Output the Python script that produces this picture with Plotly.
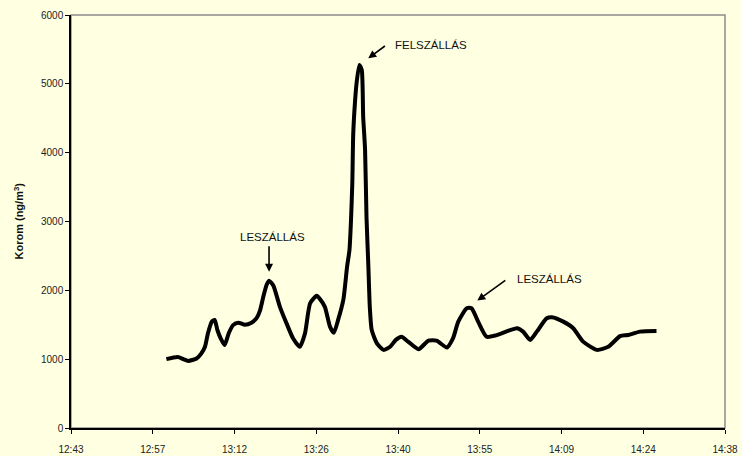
import plotly.graph_objects as go

# Soot concentration measured near the runway (clock time, ng/m3)
times = [
    "13:00:00", "13:02:00", "13:03:00", "13:03:50", "13:05:20", "13:06:10",
    "13:06:48", "13:07:20", "13:08:00", "13:08:30", "13:09:00", "13:09:35",
    "13:10:15", "13:11:00", "13:11:45", "13:12:40", "13:13:50", "13:15:00",
    "13:15:55", "13:16:30", "13:17:05", "13:17:40", "13:18:05", "13:18:50",
    "13:20:00", "13:21:10", "13:22:20", "13:23:30", "13:24:25", "13:25:20",
    "13:26:30", "13:27:05", "13:27:55", "13:28:50", "13:29:30", "13:30:15",
    "13:31:10", "13:31:50", "13:32:15", "13:32:30", "13:32:45", "13:32:55",
    "13:33:15", "13:33:30", "13:34:00", "13:34:25", "13:34:40", "13:35:00",
    "13:35:15", "13:35:35", "13:35:50", "13:36:10", "13:37:05", "13:38:15",
    "13:39:25", "13:40:25", "13:41:25", "13:42:35", "13:44:25", "13:46:10",
    "13:47:35", "13:49:25", "13:50:30", "13:51:25", "13:52:55", "13:53:45",
    "13:54:55", "13:56:25", "13:58:10", "14:01:45", "14:02:50", "14:04:05",
    "14:05:15", "14:07:00", "14:07:55", "14:09:55", "14:11:40", "14:13:25",
    "14:15:50", "14:17:50", "14:19:55", "14:21:20", "14:23:25", "14:26:20",
]
korom = [
    1000, 1030, 1000, 975, 1010, 1085,
    1180, 1380, 1545, 1570, 1420, 1300,
    1205, 1380, 1495, 1530, 1500, 1530,
    1600, 1710, 1910, 2080, 2140, 2070,
    1760, 1520, 1300, 1180, 1375, 1815,
    1920, 1870, 1760, 1470, 1385, 1570,
    1860, 2345, 2585, 2975, 3555, 4280,
    4765, 5010, 5275, 5200, 4525, 4040,
    3070, 2345, 1760, 1425, 1230, 1135,
    1180, 1280, 1325, 1255, 1145, 1270,
    1270, 1170, 1305, 1545, 1740, 1740,
    1545, 1325, 1350, 1450, 1400, 1280,
    1400, 1595, 1610, 1545, 1450, 1255,
    1135, 1180, 1335, 1350, 1400, 1410,
]

# Axis ticks: day fractions 0.53 ... 0.61 (Excel-style time axis)
tick_days = [0.53, 0.54, 0.55, 0.56, 0.57, 0.58, 0.59, 0.60, 0.61]
tick_labels = ["12:43", "12:57", "13:12", "13:26", "13:40",
               "13:55", "14:09", "14:24", "14:38"]
y_ticks = [0, 1000, 2000, 3000, 4000, 5000, 6000]

# Event labels: (text, window start, window end)
events = [
    ("LESZÁLLÁS", "13:15:00", "13:20:00"),
    ("FELSZÁLLÁS", "13:30:00", "13:38:00"),
    ("LESZÁLLÁS", "13:50:00", "13:54:00"),
]


def to_min(t):
    h, m, s = (int(p) for p in t.split(":"))
    return h * 60 + m + s / 60.0


x_min = [to_min(t) for t in times]
tick_min = [d * 1440 for d in tick_days]

BG = "#FFFFE1"
FONT = "Liberation Sans, Arial, sans-serif"

fig = go.Figure()
fig.add_trace(go.Scatter(
    x=x_min, y=korom, mode="lines",
    line=dict(color="black", width=4, shape="spline", smoothing=0.6),
    hoverinfo="skip", showlegend=False,
))


def peak_in(t0, t1):
    a, b = to_min(t0), to_min(t1)
    idx = [i for i, x in enumerate(x_min) if a <= x <= b]
    j = max(idx, key=lambda i: korom[i])
    return x_min[j], korom[j]


# arrow offsets (px) and text offsets (px) for each event label
arrow_cfg = [
    dict(ax=0, ay=-36, standoff=9, tx=3, ty=44, anchor="center"),
    dict(ax=27, ay=-20, standoff=11, tx=34, ty=19.5, anchor="left"),
    dict(ax=40, ay=-29, standoff=13, tx=48, ty=29, anchor="left"),
]

annotations = []
for (label, t0, t1), cfg in zip(events, arrow_cfg):
    px, py = peak_in(t0, t1)
    annotations.append(dict(
        x=px, y=py, xref="x", yref="y", text="", showarrow=True,
        ax=cfg["ax"], ay=cfg["ay"], standoff=cfg["standoff"],
        arrowhead=2, arrowsize=1, arrowwidth=1.6, arrowcolor="black",
    ))
    annotations.append(dict(
        x=px, y=py, xref="x", yref="y", text=label, showarrow=False,
        xanchor=cfg["anchor"], yanchor="middle",
        xshift=cfg["tx"], yshift=cfg["ty"],
        font=dict(family=FONT, size=11.5, color="#111111"),
    ))

annotations.append(dict(
    x=-0.081, y=0.5, xref="paper", yref="paper",
    text="<b>Korom (ng/m<sup>3</sup>)</b>", textangle=-90, showarrow=False,
    xanchor="center", yanchor="middle",
    font=dict(family=FONT, size=11, color="#111111"),
))

fig.update_layout(
    width=742, height=456,
    margin=dict(l=71, r=17, t=15, b=28),
    paper_bgcolor=BG, plot_bgcolor=BG,
    font=dict(family=FONT, size=10, color="#222222"),
    annotations=annotations,
    shapes=[dict(type="rect", xref="paper", yref="paper",
                 x0=0, y0=0, x1=1, y1=1,
                 line=dict(color="#8C8C8C", width=1.5), layer="below")],
)
fig.update_xaxes(
    range=[tick_min[0], tick_min[-1]],
    tickvals=tick_min, ticktext=tick_labels,
    showgrid=False, zeroline=False, automargin=False,
    showline=True, linecolor="black", linewidth=1.5,
    ticks="outside", ticklen=4, tickwidth=1, tickcolor="black",
    ticklabelstandoff=7,
    tickfont=dict(family=FONT, size=10, color="#222222"),
)
fig.update_yaxes(
    range=[0, 6000], tickvals=y_ticks,
    showgrid=False, zeroline=False, automargin=False,
    showline=True, linecolor="black", linewidth=1.5,
    ticks="outside", ticklen=4, tickwidth=1, tickcolor="black",
    tickfont=dict(family=FONT, size=10, color="#222222"),
)

fig.write_html("out.html")
